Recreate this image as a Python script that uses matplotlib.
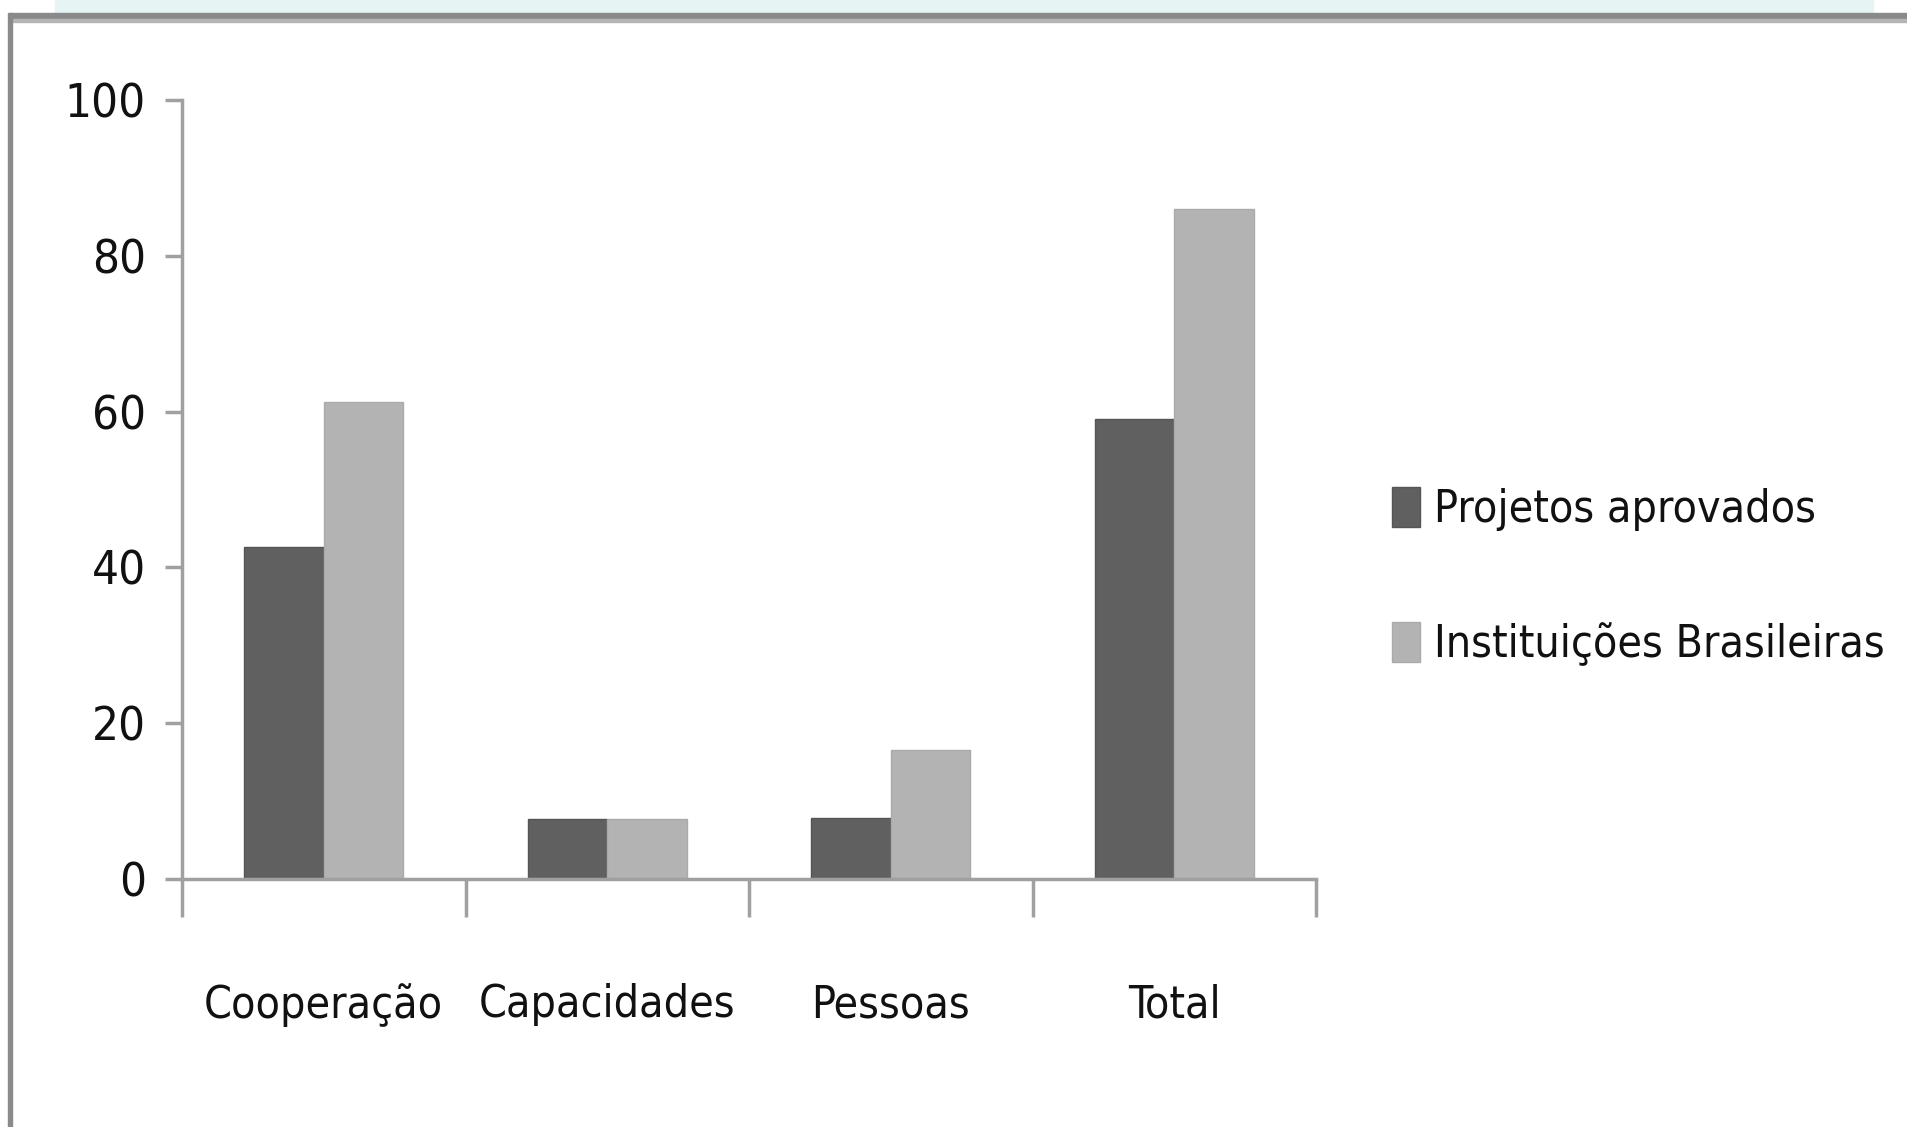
import matplotlib.pyplot as plt
import numpy as np
from matplotlib import font_manager
from matplotlib.patches import Rectangle

# dados
categorias = ["Cooperação", "Capacidades", "Pessoas", "Total"]
projetos = [42.6, 7.7, 7.8, 59]
instituicoes = [61.2, 7.7, 16.6, 86]
series = ["Projetos aprovados", "Instituições Brasileiras"]
cores = ["#606060", "#b3b3b3"]
yticks = [0, 20, 40, 60, 80, 100]

# fonte estreita (parecida com Calibri) se existir alguma
estreitas = [f for f in font_manager.fontManager.ttflist
             if (f.stretch in ("condensed", "semi-condensed", 600, 700)
                 or "Narrow" in f.name or "Condensed" in f.name)
             and f.style == "normal" and f.weight in (400, "normal", "regular", "book")]
if estreitas:
    fp = font_manager.FontProperties(fname=estreitas[0].fname)
    tam = 32
else:
    fp = font_manager.FontProperties(family="Liberation Sans")
    tam = 30

fig = plt.figure(figsize=(19.07, 11.27), dpi=100)
fig.patch.set_facecolor("white")

# moldura da imagem original
fig.patches.append(Rectangle((55 / 1907, 1 - 13 / 1127), (1873 - 55) / 1907, 13 / 1127,
                             transform=fig.transFigure, color="#e6f4f4", zorder=0))
fig.patches.append(Rectangle((10 / 1907, 1 - 19 / 1127), 1, 6 / 1127,
                             transform=fig.transFigure, color="#8a8a8a", zorder=1))
fig.patches.append(Rectangle((10 / 1907, 1 - 22 / 1127), 1, 3 / 1127,
                             transform=fig.transFigure, color="#b5b5b5", zorder=1))
fig.patches.append(Rectangle((8 / 1907, 0), 4 / 1907, 1 - 13 / 1127,
                             transform=fig.transFigure, color="#8a8a8a", zorder=1))

ax = fig.add_axes([182 / 1907, 1 - 879 / 1127, (1316 - 182) / 1907, (879 - 100) / 1127])

x = np.arange(len(categorias))
w = 0.28
ax.bar(x - w / 2, projetos, w, color=cores[0], edgecolor="#555555", linewidth=1,
       label=series[0], zorder=2)
ax.bar(x + w / 2, instituicoes, w, color=cores[1], edgecolor="#aaaaaa", linewidth=1,
       label=series[1], zorder=2)

ax.set_xlim(-0.5, len(categorias) - 0.5)
ax.set_ylim(0, 100)

for s in ["top", "right"]:
    ax.spines[s].set_visible(False)
for s in ["left", "bottom"]:
    ax.spines[s].set_color("#a0a0a0")
    ax.spines[s].set_linewidth(2.5)

ax.set_yticks(yticks)
ax.set_yticklabels([str(v) for v in yticks], fontproperties=fp, size=tam + 2)
ax.tick_params(axis="y", length=12, width=2.5, color="#a0a0a0",
               labelcolor="#111111", pad=14)

ax.set_xticks(np.arange(len(categorias) + 1) - 0.5)
ax.set_xticklabels([])
ax.tick_params(axis="x", which="major", length=27, width=2.5, color="#a0a0a0")
ax.set_xticks(x, minor=True)
ax.set_xticklabels(categorias, minor=True, fontproperties=fp, size=tam)
ax.tick_params(axis="x", which="minor", length=0, labelcolor="#111111", pad=75)

leg_fp = fp.copy()
leg_fp.set_size(tam)
ax.legend(loc="center left", bbox_to_anchor=(1.067, 0.388), frameon=False, prop=leg_fp,
          borderpad=0, borderaxespad=0,
          handlelength=0.64, handleheight=1.0, handletextpad=0.3, labelspacing=2.05,
          labelcolor="#111111")

fig.savefig("out.png", dpi=100)
